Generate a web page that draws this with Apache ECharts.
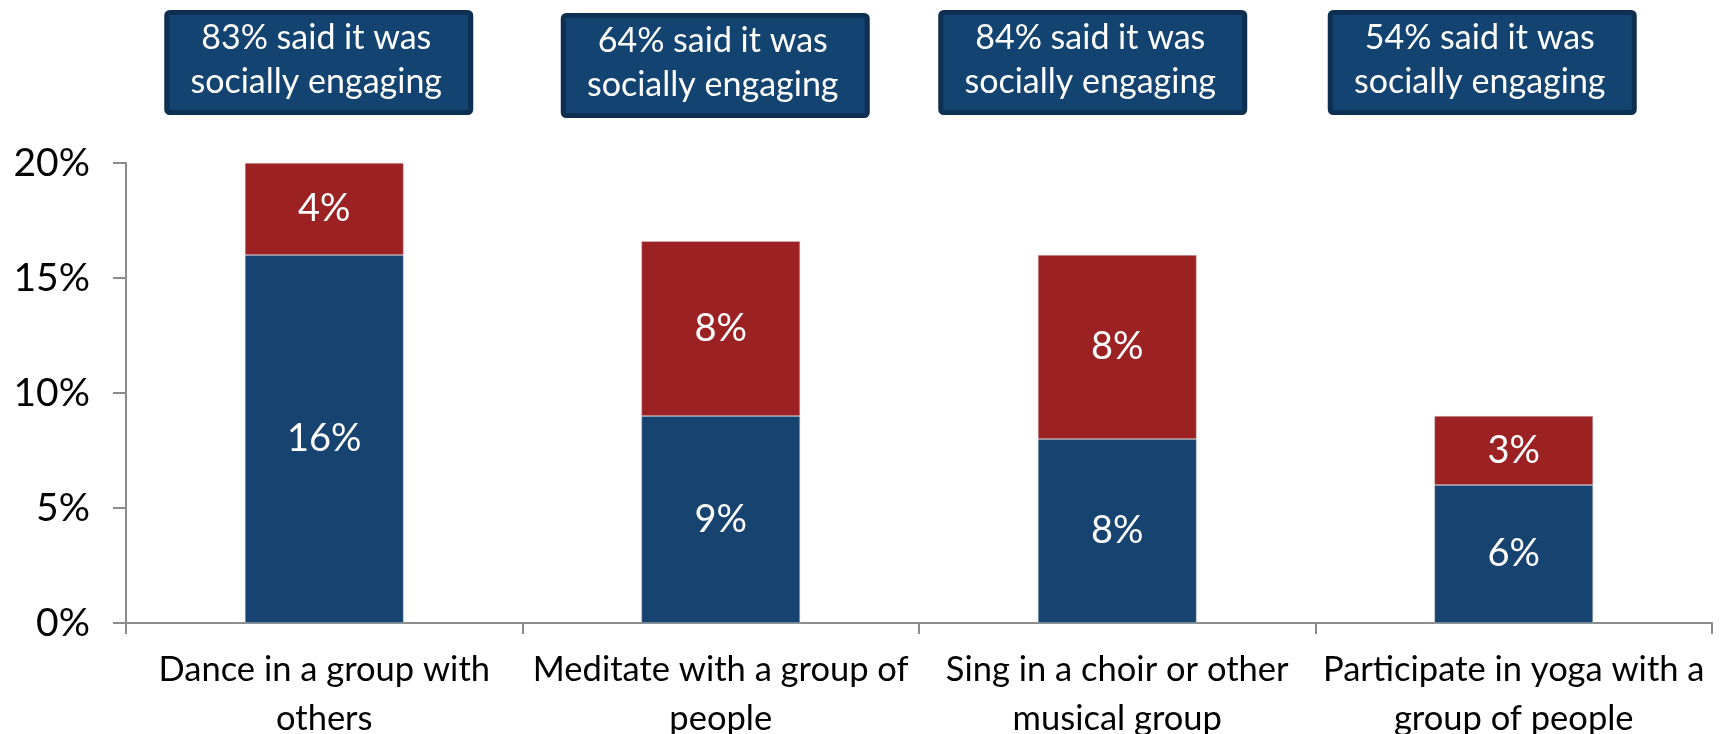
<!DOCTYPE html>
<html>
<head>
<meta charset="utf-8">
<script src="https://cdn.jsdelivr.net/npm/echarts@6/dist/echarts.min.js"></script>
<style>
  html, body { margin: 0; padding: 0; background: #fff; }
  #socialChart { width: 1723px; height: 734px; }
</style>
</head>
<body>
<div id="socialChart"></div>
<script>
// activities on the x axis
var categories = [
  'Dance in a group with\nothers',
  'Meditate with a group of\npeople',
  'Sing in a choir or other\nmusical group',
  'Participate in yoga with a\ngroup of people'
]
// stacked parts, in percent
var bottomValues = [16, 9, 8, 6]
var topValues = [4, 7.6, 8, 3]
// share who said it was socially engaging
var engagingShare = [83, 64, 84, 54]
var yTicks = [0, 5, 10, 15, 20]

var blue = '#164370'
var red = '#9c2123'
var font = 'Lato'

var chart = echarts.init(document.getElementById('socialChart'))

var option = {
  animation: false,
  textStyle: { fontFamily: font },
  grid: { left: 126, right: 11, top: 163, bottom: 111, outerBoundsMode: 'none', containLabel: false },
  xAxis: {
    type: 'category',
    data: categories,
    axisLine: { lineStyle: { color: '#8c8c8c', width: 2 } },
    axisTick: { show: true, length: 11, alignWithLabel: false, lineStyle: { color: '#8c8c8c', width: 2 } },
    axisLabel: { color: '#000', fontSize: 34.5, lineHeight: 49, margin: 22, interval: 0, fontFamily: font }
  },
  yAxis: {
    type: 'value',
    min: yTicks[0],
    max: yTicks[yTicks.length - 1],
    interval: 5,
    splitLine: { show: false },
    axisLine: { show: true, lineStyle: { color: '#8c8c8c', width: 2 } },
    axisTick: { show: true, length: 13, lineStyle: { color: '#8c8c8c', width: 2 } },
    axisLabel: { color: '#000', fontSize: 39, margin: 36, formatter: '{value}%', fontFamily: font }
  },
  series: [
    {
      name: 'bottom',
      type: 'bar',
      stack: 'total',
      barWidth: '40%',
      data: bottomValues,
      itemStyle: { color: blue, borderColor: '#c9cfd8', borderWidth: 0.5 },
      label: {
        show: true, position: 'inside', color: '#fff', fontSize: 38, fontFamily: font,
        formatter: function (p) { return Math.round(p.value) + '%' }
      }
    },
    {
      name: 'top',
      type: 'bar',
      stack: 'total',
      barWidth: '40%',
      data: topValues,
      itemStyle: { color: red, borderColor: '#d8c9c9', borderWidth: 0.5 },
      label: {
        show: true, position: 'inside', color: '#fff', fontSize: 38, fontFamily: font,
        formatter: function (p) { return Math.round(p.value) + '%' }
      }
    }
  ]
}

chart.setOption(option)

// callout boxes above each bar
var boxShift = [-8, -8, -27, -34]
var boxTop = [10, 13, 10, 10]
var boxW = 304, boxH = 100
var graphics = []
engagingShare.forEach(function (v, i) {
  var cx = chart.convertToPixel({ xAxisIndex: 0 }, i) + boxShift[i]
  graphics.push({
    type: 'rect',
    left: cx - boxW / 2,
    top: boxTop[i],
    shape: { width: boxW, height: boxH, r: 3 },
    style: { fill: '#134370', stroke: '#0d2f52', lineWidth: 5 }
  })
  graphics.push({
    type: 'text',
    x: cx,
    y: boxTop[i] + boxH / 2,
    style: {
      text: v + '% said it was\nsocially engaging',
      fill: '#fff',
      font: '34px ' + font,
      lineHeight: 44,
      align: 'center',
      verticalAlign: 'middle'
    }
  })
})
chart.setOption({ graphic: graphics })
</script>
</body>
</html>
